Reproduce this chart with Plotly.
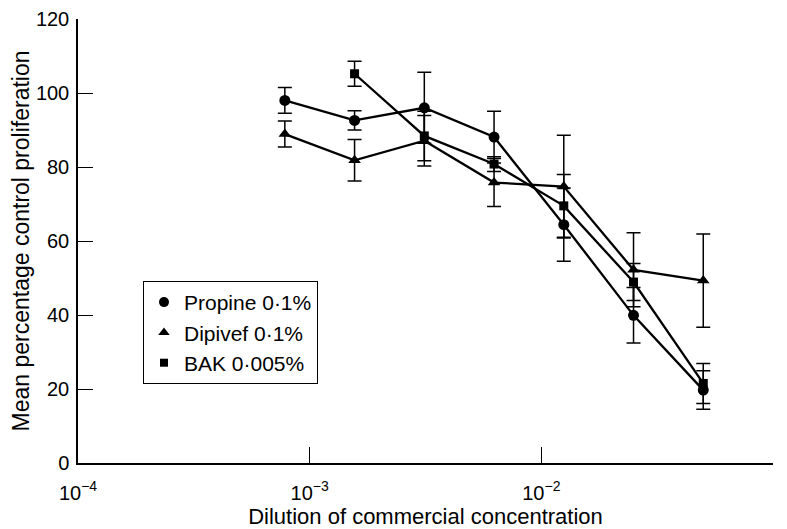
import plotly.graph_objects as go

# Data
dilution = [0.00078125, 0.0015625, 0.003125, 0.00625, 0.0125, 0.025, 0.05]

propine = [98.0, 92.6, 96.0, 88.1, 64.4, 39.9, 19.7]
propine_err = [3.5, 2.6, 9.6, 7.0, 9.9, 7.5, 5.2]

dipivef = [88.9, 81.8, 87.1, 75.8, 74.7, 52.2, 49.3]
dipivef_err = [3.5, 5.6, 6.8, 6.5, 13.9, 10.0, 12.6]

bak_dilution = [0.0015625, 0.003125, 0.00625, 0.0125, 0.025, 0.05]
bak = [105.2, 88.4, 80.8, 69.5, 48.9, 21.5]
bak_err = [3.4, 6.7, 2.0, 8.5, 5.0, 5.4]

series_names = ["Propine 0·1%", "Dipivef 0·1%", "BAK 0·005%"]

x_tickvals = [1e-4, 1e-3, 1e-2, 1e-1]
x_ticktext = ["10<sup>−4</sup>", "10<sup>−3</sup>", "10<sup>−2</sup>", "10<sup>−1</sup>"]
y_tickvals = [0, 20, 40, 60, 80, 100, 120]

FONT = "Liberation Sans, Arial, sans-serif"

fig = go.Figure()

specs = [
    (dilution, propine, propine_err, "circle", 11),
    (dilution, dipivef, dipivef_err, "triangle-up", 11),
    (bak_dilution, bak, bak_err, "square", 9),
]

for (xs, ys, es, sym, sz), name in zip(specs, series_names):
    fig.add_trace(go.Scatter(
        x=xs, y=ys, mode="lines+markers", showlegend=False,
        line=dict(color="black", width=2.3),
        marker=dict(symbol=sym, size=sz, color="black"),
        error_y=dict(type="data", array=es, visible=True, color="black",
                     thickness=1.5, width=7),
    ))

for (xs, ys, es, sym, sz), name in zip(specs, series_names):
    fig.add_trace(go.Scatter(
        x=[None], y=[None], mode="markers", name=name,
        marker=dict(symbol=sym, size=sz - 1, color="black"),
    ))

# The page body adds an 8px offset, so the figure is 8px smaller on each side
fig.update_layout(
    width=779, height=521,
    margin=dict(l=70, r=14, t=11, b=66),
    paper_bgcolor="white", plot_bgcolor="white",
    font=dict(family=FONT, size=20, color="black"),
    legend=dict(
        x=0.0935, y=0.41, xanchor="left", yanchor="top",
        bordercolor="black", borderwidth=1, bgcolor="white",
        font=dict(family=FONT, size=21, color="black"),
        tracegroupgap=0, itemwidth=30,
    ),
)

fig.update_xaxes(
    type="log", range=[-4, -1], automargin=False,
    tickvals=x_tickvals, ticktext=x_ticktext,
    ticks="inside", ticklen=16, tickwidth=1.3, tickcolor="black",
    showline=True, linecolor="black", linewidth=1.5,
    showgrid=False, zeroline=False,
    tickfont=dict(family=FONT, size=20, color="black"),
    ticklabelstandoff=11,
    title=dict(text="Dilution of commercial concentration",
               font=dict(family=FONT, size=22, color="black"), standoff=0),
)

fig.update_yaxes(
    range=[0, 120], tickvals=y_tickvals, automargin=False,
    ticks="inside", ticklen=15, tickwidth=1.3, tickcolor="black",
    showline=True, linecolor="black", linewidth=1.5,
    showgrid=False, zeroline=False,
    tickfont=dict(family=FONT, size=20, color="black"),
    ticklabelstandoff=3,
    title=dict(text="Mean percentage control proliferation",
               font=dict(family=FONT, size=23, color="black"), standoff=10),
)

fig.write_html("out.html")
